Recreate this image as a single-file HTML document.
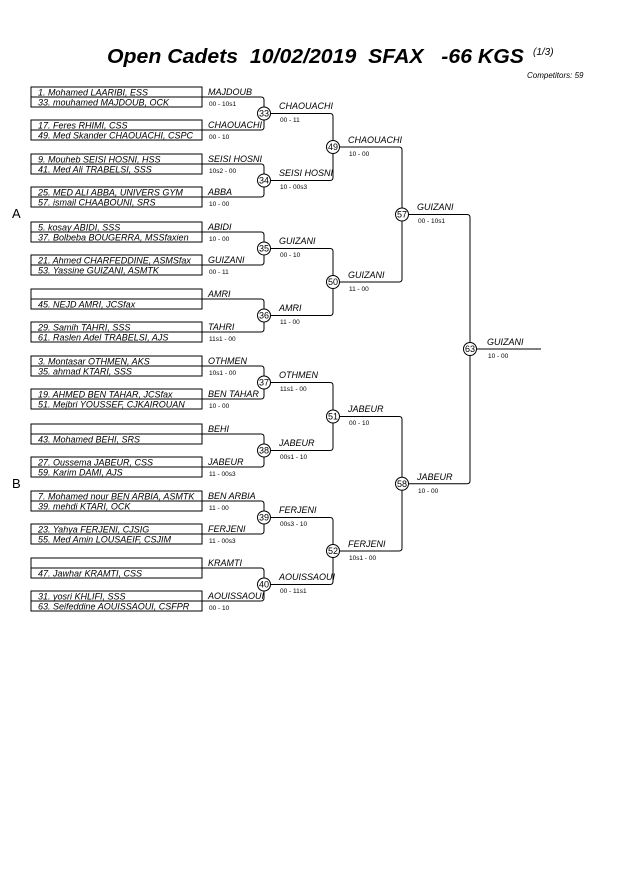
<!DOCTYPE html>
<html><head><meta charset="utf-8"><style>
html,body{margin:0;padding:0;background:#fff;}
svg{display:block}
text{font-family:"Liberation Sans",Arial,sans-serif;font-style:italic;fill:#000}
.b{font-size:9px}
.s{font-size:6.5px;font-style:normal}
.n{font-size:9px}
.c{font-size:9px;font-style:normal;text-anchor:middle}
rect{fill:none;stroke:#000;stroke-width:1}
path{fill:none;stroke:#000;stroke-width:1}
circle{fill:#fff;stroke:#000;stroke-width:1}
</style></head><body>
<svg width="630" height="891" viewBox="0 0 630 891" xmlns="http://www.w3.org/2000/svg">
<text x="107" y="63" textLength="417" lengthAdjust="spacingAndGlyphs" style="font-size:20px;font-weight:bold;white-space:pre" xml:space="preserve">Open Cadets  10/02/2019  SFAX   -66 KGS</text>
<text x="533" y="55" style="font-size:10px">(1/3)</text>
<text x="527" y="78" style="font-size:8px">Competitors: 59</text>
<text x="12" y="218" style="font-size:13px;font-style:normal">A</text>
<text x="12" y="488" style="font-size:13px;font-style:normal">B</text>

<path d="M202 97H261q3 0 3 3V127q0 3-3 3H202"/>
<path d="M202 164H261q3 0 3 3V194q0 3-3 3H202"/>
<path d="M202 232H261q3 0 3 3V262q0 3-3 3H202"/>
<path d="M202 299H261q3 0 3 3V329q0 3-3 3H202"/>
<path d="M202 366H261q3 0 3 3V396q0 3-3 3H202"/>
<path d="M202 434H261q3 0 3 3V464q0 3-3 3H202"/>
<path d="M202 501H261q3 0 3 3V531q0 3-3 3H202"/>
<path d="M202 568H261q3 0 3 3V598q0 3-3 3H202"/>
<path d="M264 113.5H330q3 0 3 3V177.5q0 3-3 3H264"/>
<path d="M264 248.5H330q3 0 3 3V312.5q0 3-3 3H264"/>
<path d="M264 382.5H330q3 0 3 3V447.5q0 3-3 3H264"/>
<path d="M264 517.5H330q3 0 3 3V581.5q0 3-3 3H264"/>
<path d="M333 147H399q3 0 3 3V279q0 3-3 3H333"/>
<path d="M333 416.5H399q3 0 3 3V548q0 3-3 3H333"/>
<path d="M402 214.5H467q3 0 3 3V480.75q0 3-3 3H402"/>
<path d="M470 349H541"/>

<g>
<rect x="31" y="87" width="171" height="20"/><path d="M31 97H202"/>
<rect x="31" y="120" width="171" height="20"/><path d="M31 130H202"/>
<rect x="31" y="154" width="171" height="20"/><path d="M31 164H202"/>
<rect x="31" y="187" width="171" height="20"/><path d="M31 197H202"/>
<rect x="31" y="222" width="171" height="20"/><path d="M31 232H202"/>
<rect x="31" y="255" width="171" height="20"/><path d="M31 265H202"/>
<rect x="31" y="289" width="171" height="20"/><path d="M31 299H202"/>
<rect x="31" y="322" width="171" height="20"/><path d="M31 332H202"/>
<rect x="31" y="356" width="171" height="20"/><path d="M31 366H202"/>
<rect x="31" y="389" width="171" height="20"/><path d="M31 399H202"/>
<rect x="31" y="424" width="171" height="20"/><path d="M31 434H202"/>
<rect x="31" y="457" width="171" height="20"/><path d="M31 467H202"/>
<rect x="31" y="491" width="171" height="20"/><path d="M31 501H202"/>
<rect x="31" y="524" width="171" height="20"/><path d="M31 534H202"/>
<rect x="31" y="558" width="171" height="20"/><path d="M31 568H202"/>
<rect x="31" y="591" width="171" height="20"/><path d="M31 601H202"/>
</g>
<g class="b">
<text x="38" y="95.5">1. Mohamed LAARIBI, ESS</text><text x="38" y="105.5">33. mouhamed MAJDOUB, OCK</text>
<text x="38" y="128.5">17. Feres RHIMI, CSS</text><text x="38" y="138.5">49. Med Skander CHAOUACHI, CSPC</text>
<text x="38" y="162.5">9. Mouheb SEISI HOSNI, HSS</text><text x="38" y="172.5">41. Med Ali TRABELSI, SSS</text>
<text x="38" y="195.5">25. MED ALI ABBA, UNIVERS GYM</text><text x="38" y="205.5">57. ismail CHAABOUNI, SRS</text>
<text x="38" y="230.5">5. kosay ABIDI, SSS</text><text x="38" y="240.5">37. Bolbeba BOUGERRA, MSSfaxien</text>
<text x="38" y="263.5">21. Ahmed CHARFEDDINE, ASMSfax</text><text x="38" y="273.5">53. Yassine GUIZANI, ASMTK</text>
<text x="38" y="307.5">45. NEJD AMRI, JCSfax</text>
<text x="38" y="330.5">29. Samih TAHRI, SSS</text><text x="38" y="340.5">61. Raslen Adel TRABELSI, AJS</text>
<text x="38" y="364.5">3. Montasar OTHMEN, AKS</text><text x="38" y="374.5">35. ahmad KTARI, SSS</text>
<text x="38" y="397.5">19. AHMED BEN TAHAR, JCSfax</text><text x="38" y="407.5">51. Mejbri YOUSSEF, CJKAIROUAN</text>
<text x="38" y="442.5">43. Mohamed BEHI, SRS</text>
<text x="38" y="465.5">27. Oussema JABEUR, CSS</text><text x="38" y="475.5">59. Karim DAMI, AJS</text>
<text x="38" y="499.5">7. Mohamed nour BEN ARBIA, ASMTK</text><text x="38" y="509.5">39. mehdi KTARI, OCK</text>
<text x="38" y="532.5">23. Yahya FERJENI, CJSIG</text><text x="38" y="542.5">55. Med Amin LOUSAEIF, CSJIM</text>
<text x="38" y="576.5">47. Jawhar KRAMTI, CSS</text>
<text x="38" y="599.5">31. yosri KHLIFI, SSS</text><text x="38" y="609.5">63. Seifeddine AOUISSAOUI, CSFPR</text>
</g>
<g>
<text class="n" x="208" y="95">MAJDOUB</text><text class="s" x="209" y="106">00 - 10s1</text>
<text class="n" x="208" y="128">CHAOUACHI</text><text class="s" x="209" y="139">00 - 10</text>
<text class="n" x="208" y="162">SEISI HOSNI</text><text class="s" x="209" y="173">10s2 - 00</text>
<text class="n" x="208" y="195">ABBA</text><text class="s" x="209" y="206">10 - 00</text>
<text class="n" x="208" y="230">ABIDI</text><text class="s" x="209" y="241">10 - 00</text>
<text class="n" x="208" y="263">GUIZANI</text><text class="s" x="209" y="274">00 - 11</text>
<text class="n" x="208" y="297">AMRI</text>
<text class="n" x="208" y="330">TAHRI</text><text class="s" x="209" y="341">11s1 - 00</text>
<text class="n" x="208" y="364">OTHMEN</text><text class="s" x="209" y="375">10s1 - 00</text>
<text class="n" x="208" y="397">BEN TAHAR</text><text class="s" x="209" y="408">10 - 00</text>
<text class="n" x="208" y="432">BEHI</text>
<text class="n" x="208" y="465">JABEUR</text><text class="s" x="209" y="476">11 - 00s3</text>
<text class="n" x="208" y="499">BEN ARBIA</text><text class="s" x="209" y="510">11 - 00</text>
<text class="n" x="208" y="532">FERJENI</text><text class="s" x="209" y="543">11 - 00s3</text>
<text class="n" x="208" y="566">KRAMTI</text>
<text class="n" x="208" y="599">AOUISSAOUI</text><text class="s" x="209" y="610">00 - 10</text>
</g>
<g>
<text class="n" x="279" y="109">CHAOUACHI</text><text class="s" x="280" y="122">00 - 11</text>
<text class="n" x="279" y="176">SEISI HOSNI</text><text class="s" x="280" y="189">10 - 00s3</text>
<text class="n" x="279" y="244">GUIZANI</text><text class="s" x="280" y="257">00 - 10</text>
<text class="n" x="279" y="311">AMRI</text><text class="s" x="280" y="324">11 - 00</text>
<text class="n" x="279" y="378">OTHMEN</text><text class="s" x="280" y="391">11s1 - 00</text>
<text class="n" x="279" y="446">JABEUR</text><text class="s" x="280" y="459">00s1 - 10</text>
<text class="n" x="279" y="513">FERJENI</text><text class="s" x="280" y="526">00s3 - 10</text>
<text class="n" x="279" y="580">AOUISSAOUI</text><text class="s" x="280" y="593">00 - 11s1</text>
<text class="n" x="348" y="143">CHAOUACHI</text><text class="s" x="349" y="156">10 - 00</text>
<text class="n" x="348" y="278">GUIZANI</text><text class="s" x="349" y="291">11 - 00</text>
<text class="n" x="348" y="412">JABEUR</text><text class="s" x="349" y="425">00 - 10</text>
<text class="n" x="348" y="547">FERJENI</text><text class="s" x="349" y="560">10s1 - 00</text>
<text class="n" x="417" y="210">GUIZANI</text><text class="s" x="418" y="223">00 - 10s1</text>
<text class="n" x="417" y="480">JABEUR</text><text class="s" x="418" y="493">10 - 00</text>
<text class="n" x="487" y="345">GUIZANI</text><text class="s" x="488" y="358">10 - 00</text>
</g>
<g>
<circle cx="264" cy="113.5" r="6.5"/><text class="c" x="264" y="116.5">33</text>
<circle cx="264" cy="180.5" r="6.5"/><text class="c" x="264" y="183.5">34</text>
<circle cx="264" cy="248.5" r="6.5"/><text class="c" x="264" y="251.5">35</text>
<circle cx="264" cy="315.5" r="6.5"/><text class="c" x="264" y="318.5">36</text>
<circle cx="264" cy="382.5" r="6.5"/><text class="c" x="264" y="385.5">37</text>
<circle cx="264" cy="450.5" r="6.5"/><text class="c" x="264" y="453.5">38</text>
<circle cx="264" cy="517.5" r="6.5"/><text class="c" x="264" y="520.5">39</text>
<circle cx="264" cy="584.5" r="6.5"/><text class="c" x="264" y="587.5">40</text>
<circle cx="333" cy="147" r="6.5"/><text class="c" x="333" y="150">49</text>
<circle cx="333" cy="282" r="6.5"/><text class="c" x="333" y="285">50</text>
<circle cx="333" cy="416.5" r="6.5"/><text class="c" x="333" y="419.5">51</text>
<circle cx="333" cy="551" r="6.5"/><text class="c" x="333" y="554">52</text>
<circle cx="402" cy="214.5" r="6.5"/><text class="c" x="402" y="217.5">57</text>
<circle cx="402" cy="483.75" r="6.5"/><text class="c" x="402" y="486.75">58</text>
<circle cx="470" cy="349" r="6.5"/><text class="c" x="470" y="352">63</text>
</g>
</svg>
</body></html>
